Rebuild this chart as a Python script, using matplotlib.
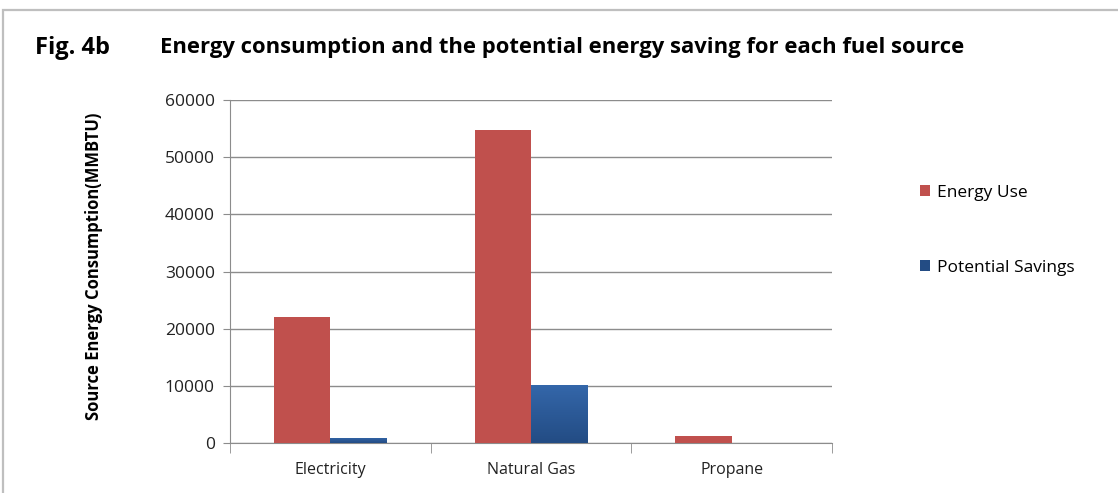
import numpy as np
import matplotlib.pyplot as plt
from matplotlib.colors import LinearSegmentedColormap
from matplotlib.patches import Rectangle

fuels = ["Electricity", "Natural Gas", "Propane"]
energy_use = [22000, 54800, 1200]
potential_savings = [900, 10200, 0]
y_ticks = [0, 10000, 20000, 30000, 40000, 50000, 60000]

red = "#C0504D"
blue_top = "#3467AA"
blue_bottom = "#234C84"
grid_grey = "#8C8C8C"

plt.rcParams["font.family"] = ["Open Sans", "DejaVu Sans"]

fig = plt.figure(figsize=(11.18, 4.93), dpi=100)
ax = fig.add_axes([230 / 1118, 50 / 493, 602 / 1118, 343 / 493])

x = np.arange(len(fuels))
w = 0.28
ax.bar(x - w / 2, energy_use, w, color=red, label="Energy Use", zorder=3)
blue_bars = ax.bar(x + w / 2, potential_savings, w, color=blue_bottom,
                   label="Potential Savings", zorder=3)

# vertical gradient on the savings bars
grad = LinearSegmentedColormap.from_list("sav", [blue_bottom, blue_top])
for b in blue_bars:
    h = b.get_height()
    if h <= 0:
        continue
    x0 = b.get_x()
    im = ax.imshow(np.linspace(0, 1, 100).reshape(-1, 1), cmap=grad,
                   origin="lower", aspect="auto",
                   extent=[x0, x0 + b.get_width(), 0, h], zorder=4)
    im.set_clip_path(b)

ax.set_xlim(-0.5, 2.5)
ax.set_ylim(0, 60000)
ax.set_yticks(y_ticks)
ax.set_yticklabels([str(v) for v in y_ticks], fontsize=12.5, color="#222222")
ax.set_xticks(x)
ax.set_xticklabels(fuels, fontsize=11.5, color="#222222")
ax.tick_params(axis="x", length=0, pad=14)
ax.tick_params(axis="y", length=5, color=grid_grey, pad=6)

# category separator ticks on the x axis
ax.set_xticks([-0.5, 0.5, 1.5, 2.5], minor=True)
ax.tick_params(axis="x", which="minor", length=7, color=grid_grey)

ax.grid(axis="y", color=grid_grey, linewidth=1, zorder=0)
for side in ["top", "right"]:
    ax.spines[side].set_visible(False)
ax.spines["left"].set_color(grid_grey)
ax.spines["bottom"].set_color(grid_grey)

ax.set_ylabel("Source Energy Consumption(MMBTU)", fontsize=12,
              fontweight="bold")
ax.yaxis.set_label_coords(-0.211, 0.515)

ax.legend(loc="center left", bbox_to_anchor=(1.12, 0.62), frameon=False,
          fontsize=12.5, handlelength=0.6, handleheight=0.6, handletextpad=0.4,
          labelspacing=3.4)

fig.text(35 / 1118, 1 - 48 / 493, "Fig. 4b", fontsize=17, fontweight="bold",
         va="center", ha="left")
fig.text(160 / 1118, 1 - 48 / 493,
         "Energy consumption and the potential energy saving for each fuel source",
         fontsize=15.8, fontweight="bold", va="center", ha="left")

# outer frame, open towards the right and bottom
fig.add_artist(Rectangle((3 / 1118, -0.1), 1.2, 1.1 - 10 / 493,
                         transform=fig.transFigure, fill=False,
                         edgecolor="#BFBFBF", linewidth=1.6))

fig.savefig("out.png", dpi=100)
